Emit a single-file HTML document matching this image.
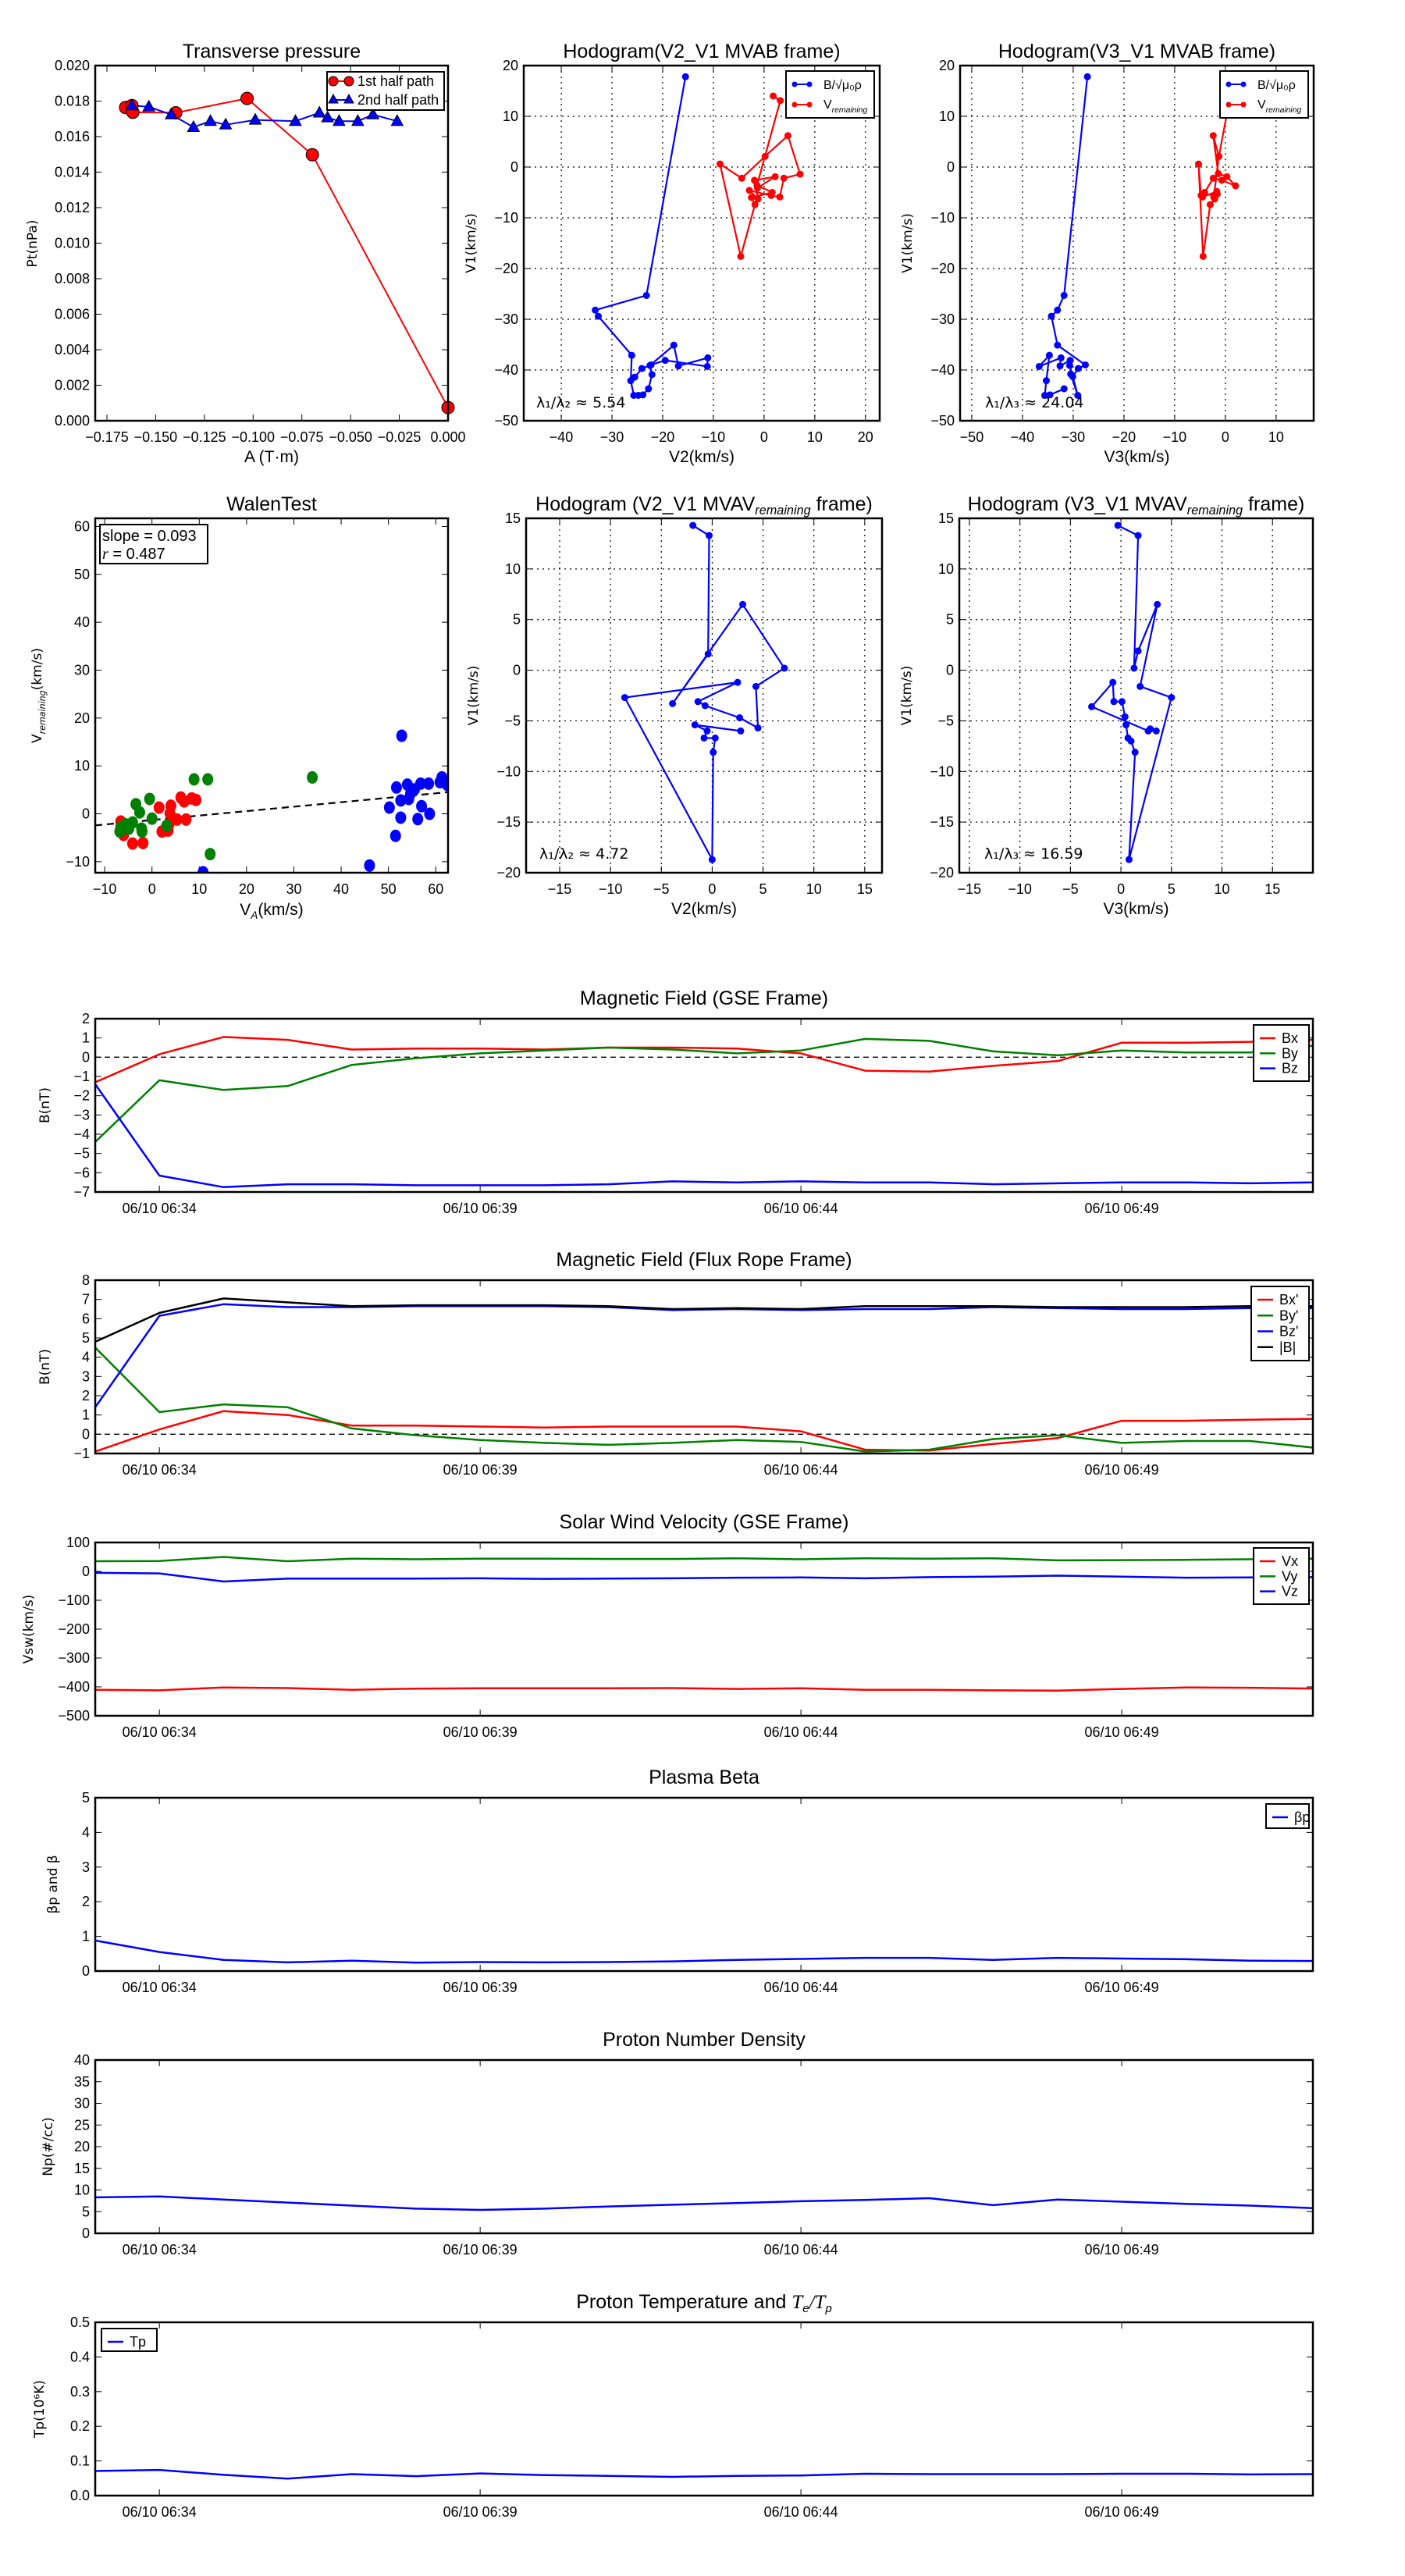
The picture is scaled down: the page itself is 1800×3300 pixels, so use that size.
<!DOCTYPE html>
<html><head><meta charset="utf-8"><title>Flux rope analysis</title>
<style>
html,body{margin:0;padding:0;background:#fff;}
svg{display:block;font-family:"Liberation Sans Narrow","Liberation Sans",sans-serif;}
.tl{font-size:18px;fill:#000;}
.ttl{font-size:25px;fill:#000;}
.yl{font-family:"DejaVu Sans","Liberation Sans",sans-serif;font-size:17px;fill:#000;}
.xl{font-size:21px;fill:#000;}
</style></head>
<body>
<svg id="fig" width="1800" height="3300" viewBox="0 0 1800 3300" xmlns="http://www.w3.org/2000/svg">
<rect x="0" y="0" width="1800" height="3300" fill="#fff"/>
</svg>
<script>
// ---------- data ----------
const ptA1=[-0.1654,-0.1622,-0.1617,-0.1397,-0.1031,-0.0696,0.0];
const ptP1=[0.01764,0.01775,0.01737,0.01734,0.01815,0.01498,0.00074];
const ptA2=[-0.1622,-0.1535,-0.142,-0.1306,-0.1219,-0.1141,-0.0989,-0.0783,-0.066,-0.0618,-0.0559,-0.0463,-0.0385,-0.0261];
const ptP2=[0.01775,0.01768,0.01724,0.01653,0.01687,0.01667,0.01694,0.01687,0.01734,0.01707,0.01687,0.01687,0.01724,0.01687];

const h1Bx=[-15.5,-23.2,-33.3,-32.7,-26.1,-26.3,-25.7,-24.8,-23.9,-22.8,-22.1,-22.5,-17.8,-16.9,-11.1,-11.2,-19.5,-22.3,-24.1,-25.5];
const h1By=[17.8,-25.3,-28.2,-29.4,-37.1,-42.1,-45.0,-45.0,-44.9,-43.7,-40.9,-39.1,-35.1,-39.2,-37.6,-39.3,-38.1,-39.0,-39.7,-41.4];
const h1Vx=[1.8,3.2,-1.4,1.6,-2.5,-1.8,-4.6,-8.7,-4.4,0.2,4.7,7.1,3.9,3.1,1.4,-2.9,-1.2,-1.9,2.2,-1.3];
const h1Vy=[14.0,13.1,-3.6,-5.0,-6.0,-7.4,-17.6,0.6,-2.2,2.1,6.2,-1.4,-2.2,-5.9,-5.6,-4.6,-6.3,-2.6,-1.9,-4.1];

const h2Bx=[-27.2,-31.8,-33.1,-34.3,-33.1,-27.6,-29.0,-30.1,-30.5,-29.1,-30.7,-30.6,-32.6,-32.4,-36.7,-34.7,-35.3,-35.6,-34.6,-31.8];
const h2By=[17.8,-25.3,-28.2,-29.4,-35.1,-39.0,-39.7,-41.3,-40.8,-45.0,-39.1,-38.1,-39.2,-37.6,-39.3,-37.1,-42.1,-45.0,-44.9,-43.7];
const h2Vx=[1.3,0.8,-1.3,-2.4,-1.4,0.3,2.0,-0.7,-2.4,-4.1,-4.5,-1.7,-2.1,-3.0,-4.4,-5.3,-4.8,-1.6,-2.3,-1.3];
const h2Vy=[14.0,13.1,2.1,6.2,-1.3,-1.9,-3.7,-2.6,-2.2,-5.0,-5.9,-4.8,-6.3,-7.4,-17.6,0.6,-5.6,-5.3,-5.9,2.1];

const walRx=[-6.6,-6.0,-4.1,-1.9,1.5,2.1,3.4,3.6,3.8,4.0,4.4,6.1,6.8,7.2,8.4,9.3,5.3];
const walRy=[-1.6,-4.4,-6.2,-6.1,1.3,-3.7,-3.5,-2.2,0.1,1.7,-1.0,3.4,2.6,-1.2,3.2,2.9,-1.2];
const walGx=[-6.8,-6.6,-5.6,-4.9,-4.1,-3.4,-2.6,-2.2,-2.1,-0.5,0.0,3.1,8.9,11.8,12.3,33.9];
const walGy=[-3.7,-2.8,-2.2,-3.1,-1.8,2.0,0.3,-3.1,-3.7,3.1,-1.0,-2.5,7.2,7.2,-8.4,7.6];
const walBx=[10.8,46.0,51.5,50.2,51.7,52.6,52.8,52.6,54.0,54.7,54.3,55.5,56.2,57.0,56.8,58.5,58.7,60.9,61.3,62.5];
const walBy=[-12.2,-10.8,-4.6,1.3,5.5,2.8,16.3,-0.8,6.1,4.3,3.1,5.1,-1.1,1.6,6.3,6.3,0.0,6.6,7.6,6.0];
const walSlope=0.093, walIntercept=-1.3;

const h3x=[-1.9,-0.3,-0.4,-3.9,3.0,7.1,4.3,4.5,2.7,-0.7,-1.4,2.5,-8.6,0.0,0.1,0.3,-0.8,-0.5,-1.7,2.8];
const h3y=[14.3,13.3,1.6,-3.3,6.5,0.2,-1.6,-5.7,-4.7,-3.5,-3.1,-1.2,-2.7,-18.7,-8.1,-6.7,-6.7,-6.0,-5.4,-6.0];
const h4x=[-0.3,1.7,1.3,1.7,3.6,1.9,5.0,0.8,1.4,1.0,0.7,0.5,0.4,0.1,-0.7,-0.8,-2.9,2.7,3.5,2.9];
const h4y=[14.3,13.3,0.2,1.9,6.5,-1.6,-2.7,-18.7,-8.1,-7.0,-6.7,-5.4,-4.6,-3.1,-3.1,-1.2,-3.6,-6.0,-6.0,-5.8];

const tMin=[0,1,2,3,4,5,6,7,8,9,10,11,12,13,14,15,16,17,18,19];
const timeTicks=[1,6,11,16];
const timeLabels=['06/10 06:34','06/10 06:39','06/10 06:44','06/10 06:49'];
const gseBx=[-1.3,0.15,1.05,0.9,0.4,0.45,0.45,0.4,0.5,0.5,0.45,0.2,-0.7,-0.75,-0.45,-0.2,0.75,0.75,0.8,0.9];
const gseBy=[-4.4,-1.2,-1.7,-1.5,-0.4,-0.05,0.2,0.35,0.5,0.4,0.2,0.35,0.95,0.85,0.3,0.1,0.35,0.25,0.25,0.6];
const gseBz=[-1.4,-6.15,-6.75,-6.6,-6.6,-6.65,-6.65,-6.65,-6.6,-6.45,-6.5,-6.45,-6.5,-6.5,-6.6,-6.55,-6.5,-6.5,-6.55,-6.5];
const frBx=[-0.9,0.25,1.2,1.0,0.45,0.45,0.4,0.35,0.4,0.4,0.4,0.15,-0.8,-0.85,-0.5,-0.2,0.7,0.7,0.75,0.8];
const frBy=[4.5,1.15,1.55,1.4,0.3,-0.05,-0.3,-0.45,-0.55,-0.45,-0.3,-0.4,-0.9,-0.8,-0.25,-0.05,-0.45,-0.35,-0.35,-0.7];
const frBz=[1.4,6.15,6.75,6.6,6.6,6.65,6.65,6.65,6.6,6.45,6.5,6.45,6.5,6.5,6.6,6.55,6.5,6.5,6.55,6.55];
const frBt=[4.8,6.3,7.05,6.85,6.65,6.7,6.7,6.7,6.65,6.5,6.55,6.5,6.65,6.65,6.65,6.6,6.6,6.6,6.65,6.65];
const vswX=[-410,-412,-402,-404,-410,-406,-405,-405,-405,-404,-407,-405,-410,-410,-412,-413,-407,-402,-403,-406];
const vswY=[35,36,50,35,44,42,44,44,43,43,45,42,45,44,45,38,39,40,42,44];
const vswZ=[-5,-7,-35,-25,-25,-25,-24,-26,-25,-24,-22,-21,-24,-20,-18,-15,-18,-22,-21,-20];
const betaP=[0.88,0.55,0.32,0.25,0.3,0.24,0.26,0.25,0.26,0.28,0.32,0.35,0.38,0.38,0.32,0.38,0.36,0.34,0.3,0.29];
const densNp=[8.3,8.5,7.8,7.1,6.4,5.7,5.4,5.7,6.2,6.6,7.0,7.4,7.7,8.1,6.5,7.8,7.3,6.8,6.4,5.8];
const tempTp=[0.071,0.074,0.06,0.049,0.062,0.056,0.064,0.059,0.057,0.054,0.057,0.058,0.063,0.062,0.062,0.062,0.063,0.063,0.061,0.062];

// ---------- helpers ----------
const NS='http://www.w3.org/2000/svg';
const svg=document.getElementById('fig');
function mk(tag,attrs,parent){const e=document.createElementNS(NS,tag);for(const k in attrs)e.setAttribute(k,attrs[k]);(parent||svg).appendChild(e);return e;}
function mkAxes(box,xd,yd){
  const sx=v=>box.l+(v-xd[0])/(xd[1]-xd[0])*(box.r-box.l);
  const sy=v=>box.b-(v-yd[0])/(yd[1]-yd[0])*(box.b-box.t);
  return {sx,sy,box};
}
function fmtNeg(s){return String(s).replace('-','\u2212');}
function drawFrame(g,ax,xt,xl,yt,yl,grid){
  const b=ax.box;
  for(let i=0;i<xt.length;i++){
    const x=ax.sx(xt[i]);
    if(grid){mk('line',{x1:x,y1:b.t,x2:x,y2:b.b,stroke:'#000','stroke-width':1.2,'stroke-dasharray':'2,5'},g);}
    mk('line',{x1:x,y1:b.b,x2:x,y2:b.b-8,stroke:'#000','stroke-width':1},g);
    mk('line',{x1:x,y1:b.t,x2:x,y2:b.t+8,stroke:'#000','stroke-width':1},g);
    const t=mk('text',{x:x,y:b.b+27,'text-anchor':'middle',class:'tl'},g);
    t.textContent=xl[i];
    
    
  }
  for(let i=0;i<yt.length;i++){
    const y=ax.sy(yt[i]);
    if(grid){mk('line',{x1:b.l,y1:y,x2:b.r,y2:y,stroke:'#000','stroke-width':1.2,'stroke-dasharray':'2,5'},g);}
    mk('line',{x1:b.l,y1:y,x2:b.l+8,y2:y,stroke:'#000','stroke-width':1},g);
    mk('line',{x1:b.r,y1:y,x2:b.r-8,y2:y,stroke:'#000','stroke-width':1},g);
    const t=mk('text',{x:b.l-7,y:y+6,'text-anchor':'end',class:'tl'},g);
    t.textContent=yl[i];
    
    
  }
}
function border(g,ax){
  const b=ax.box;
  const r=mk('rect',{x:b.l,y:b.t,width:b.r-b.l,height:b.b-b.t,fill:'none',stroke:'#000','stroke-width':2.5},g);
  
  
}
function clip(id,ax){
  const b=ax.box;
  const c=mk('clipPath',{id:id});
  mk('rect',{x:b.l,y:b.t,width:b.r-b.l,height:b.b-b.t},c);
  return 'url(#'+id+')';
}
function poly(g,ax,xs,ys,color,w,cp){
  const pts=xs.map((x,i)=>ax.sx(x).toFixed(1)+','+ax.sy(ys[i]).toFixed(1)).join(' ');
  return mk('polyline',{points:pts,fill:'none',stroke:color,'stroke-width':w,'stroke-linejoin':'round','clip-path':cp},g);
}
function title(g,x,y,txt){
  const t=mk('text',{x:x,y:y,'text-anchor':'middle',class:'ttl'},g);
  t.textContent=txt;
  return t;
}
function ylab(g,x,y,txt){
  const t=mk('text',{x:x,y:y,'text-anchor':'middle',class:'yl',transform:'rotate(-90 '+x+' '+y+')'},g);
  t.textContent=txt;
  return t;
}
function range(a,b,s){const r=[];for(let v=a;v<=b+1e-9;v+=s)r.push(+v.toFixed(6));return r;}

// ---------- Transverse pressure ----------
(function(){
  const g=mk('g',{});
  
  
  const ax=mkAxes({l:122,t:84,r:574,b:539},[-0.181,0],[0,0.020]);
  const xt=range(-0.175,0,0.025);
  const yt=range(0,0.020,0.002);
  drawFrame(g,ax,xt,xt.map(v=>fmtNeg(v.toFixed(3))),yt,yt.map(v=>v.toFixed(3)),false);
  const cp=clip('cp1',ax);
  const l1=poly(g,ax,ptA1,ptP1,'#f00',2,cp);
  
  
  const l2=poly(g,ax,ptA2,ptP2,'#00f',2,cp);
  
  
  ptA1.forEach((a,i)=>{
    const c=mk('circle',{cx:ax.sx(a),cy:ax.sy(ptP1[i]),r:8,fill:'#f00',stroke:'#000','stroke-width':1},g);
    
    
  });
  ptA2.forEach((a,i)=>{
    const x=ax.sx(a),y=ax.sy(ptP2[i]);
    const p=mk('polygon',{points:`${x},${y-8} ${x-7.5},${y+5.5} ${x+7.5},${y+5.5}`,fill:'#00f',stroke:'#000','stroke-width':1},g);
    
    
  });
  border(g,ax);
  const t=title(g,348,74,'Transverse pressure');
  
  
  const yl=ylab(g,47,312,'Pt(nPa)');
  
  
  const xl=mk('text',{x:348,y:592,'text-anchor':'middle',class:'xl'},g);
  xl.textContent='A (T\u00b7m)';
  
  
  const lg=mk('g',{},g);
  
  
  mk('rect',{x:419,y:92,width:150,height:49,fill:'#fff',stroke:'#000','stroke-width':2},lg);
  mk('line',{x1:426,y1:104,x2:448,y2:104,stroke:'#f00','stroke-width':2},lg);
  mk('circle',{cx:427,cy:104,r:6,fill:'#f00',stroke:'#000'},lg);
  mk('circle',{cx:447,cy:104,r:6,fill:'#f00',stroke:'#000'},lg);
  const e1=mk('text',{x:458,y:110,class:'tl','font-size':'17px'},lg);e1.textContent='1st half path';
  
  
  mk('line',{x1:426,y1:128,x2:448,y2:128,stroke:'#00f','stroke-width':2},lg);
  mk('polygon',{points:'427,121 421,132 433,132',fill:'#00f',stroke:'#000'},lg);
  mk('polygon',{points:'447,121 441,132 453,132',fill:'#00f',stroke:'#000'},lg);
  const e2=mk('text',{x:458,y:134,class:'tl','font-size':'17px'},lg);e2.textContent='2nd half path';
  
  
})();

// ---------- hodogram builder ----------
function sub(t,base,s){const a=mk('tspan',{},t);a.textContent=base;const b=mk('tspan',{'font-size':'0.65em','font-style':'italic',dy:5},t);b.textContent=s;const c=mk('tspan',{dy:-5},t);c.textContent='';return c;}
function hodoLegend(g,x,y){
  const lg=mk('g',{},g);
  
  
  mk('rect',{x:x,y:y,width:113,height:60,fill:'#fff',stroke:'#000','stroke-width':2},lg);
  mk('line',{x1:x+11,y1:y+17,x2:x+30,y2:y+17,stroke:'#00f','stroke-width':2},lg);
  mk('circle',{cx:x+11,cy:y+17,r:3.5,fill:'#00f'},lg);mk('circle',{cx:x+30,cy:y+17,r:3.5,fill:'#00f'},lg);
  const t1=mk('text',{x:x+48,y:y+23,'font-size':'16px'},lg);
  t1.textContent='B/\u221a\u03bc\u2080\u03c1';
  
  
  mk('line',{x1:x+11,y1:y+43,x2:x+30,y2:y+43,stroke:'#f00','stroke-width':2},lg);
  mk('circle',{cx:x+11,cy:y+43,r:3.5,fill:'#f00'},lg);mk('circle',{cx:x+30,cy:y+43,r:3.5,fill:'#f00'},lg);
  const t2=mk('text',{x:x+48,y:y+48,'font-size':'16px'},lg);
  sub(t2,'V','remaining');
  
  
}
function hodo(name,box,xd,yd,xt,yt,series,ttl,xlab,ratioTxt,ratioPos,cid,legend,subTitle){
  const g=mk('g',{});
  
  
  const ax=mkAxes(box,xd,yd);
  drawFrame(g,ax,xt,xt.map(fmtNeg),yt,yt.map(fmtNeg),true);
  const cp=clip(cid,ax);
  series.forEach(s=>{
    const l=poly(g,ax,s.x,s.y,s.c,2.2,cp);
    
    
    s.x.forEach((v,i)=>{
      const c=mk('circle',{cx:ax.sx(v),cy:ax.sy(s.y[i]),r:4.5,fill:s.c,'clip-path':cp},g);
      
      
    });
  });
  border(g,ax);
  const cx=(box.l+box.r)/2;
  const t=mk('text',{x:cx,y:box.t-10,'text-anchor':'middle',class:'ttl'},g);
  if(subTitle){const a=sub(t,ttl[0],'remaining');a.textContent=ttl[1];}else{t.textContent=ttl;}
  
  
  const yl=ylab(g,box.l-62,(box.t+box.b)/2,'V1(km/s)');
  
  
  const xl=mk('text',{x:cx,y:box.b+53,'text-anchor':'middle',class:'xl'},g);
  xl.textContent=xlab;
  
  
  const r=mk('text',{x:ratioPos[0],y:ratioPos[1],'font-size':'19px','font-family':'DejaVu Sans, sans-serif'},g);
  r.textContent=ratioTxt;
  
  
  if(legend)hodoLegend(g,legend[0],legend[1]);
}
hodo('hodogram-v2-v1-mvab',{l:671,t:84,r:1127,b:539},[-47.4,22.8],[-50,20],range(-40,20,10),range(-50,20,10),
  [{x:h1Bx,y:h1By,c:'#00f',n:'b-alfven'},{x:h1Vx,y:h1Vy,c:'#f00',n:'v-remaining'}],
  'Hodogram(V2_V1 MVAB frame)','V2(km/s)','\u03bb\u2081/\u03bb\u2082 \u2248 5.54',[687,522],'cp2',[1007,91],false);
hodo('hodogram-v3-v1-mvab',{l:1230,t:84,r:1683,b:539},[-52.3,17.4],[-50,20],range(-50,10,10),range(-50,20,10),
  [{x:h2Bx,y:h2By,c:'#00f',n:'b-alfven'},{x:h2Vx,y:h2Vy,c:'#f00',n:'v-remaining'}],
  'Hodogram(V3_V1 MVAB frame)','V3(km/s)','\u03bb\u2081/\u03bb\u2083 \u2248 24.04',[1262,522],'cp3',[1563,91],false);
hodo('hodogram-v2-v1-mvav',{l:674,t:664,r:1130,b:1118},[-18.3,16.7],[-20,15],range(-15,15,5),range(-20,15,5),
  [{x:h3x,y:h3y,c:'#00f',n:'velocity'}],
  ['Hodogram (V2_V1 MVAV',' frame)'],'V2(km/s)','\u03bb\u2081/\u03bb\u2082 \u2248 4.72',[691,1100],'cp5',null,true);
hodo('hodogram-v3-v1-mvav',{l:1229,t:664,r:1682,b:1118},[-16.0,19.0],[-20,15],range(-15,15,5),range(-20,15,5),
  [{x:h4x,y:h4y,c:'#00f',n:'velocity'}],
  ['Hodogram (V3_V1 MVAV',' frame)'],'V3(km/s)','\u03bb\u2081/\u03bb\u2083 \u2248 16.59',[1261,1100],'cp6',null,true);

// ---------- Walen test ----------
(function(){
  const g=mk('g',{});
  
  
  const ax=mkAxes({l:122,t:664,r:574,b:1118},[-12,62.6],[-12.3,61.7]);
  const xt=range(-10,60,10),yt=range(-10,60,10);
  drawFrame(g,ax,xt,xt.map(fmtNeg),yt,yt.map(fmtNeg),false);
  const cp=clip('cp4',ax);
  const fl=mk('line',{x1:ax.sx(-12),y1:ax.sy(walSlope*-12+walIntercept),x2:ax.sx(62.6),y2:ax.sy(walSlope*62.6+walIntercept),stroke:'#000','stroke-width':2.2,'stroke-dasharray':'9,6','clip-path':cp},g);
  
  
  [[walRx,walRy,'#f00','red'],[walGx,walGy,'#008000','green'],[walBx,walBy,'#00f','blue']].forEach(s=>{
    s[0].forEach((v,i)=>{
      const c=mk('ellipse',{cx:ax.sx(v),cy:ax.sy(s[1][i]),rx:7,ry:8,fill:s[2],'clip-path':cp},g);
      
      
    });
  });
  border(g,ax);
  const bx=mk('g',{},g);
  
  
  mk('rect',{x:128,y:672,width:138,height:50,fill:'#fff',stroke:'#000','stroke-width':2},bx);
  const s1=mk('text',{x:131,y:693,'font-size':'20px'},bx);s1.textContent='slope = 0.093';
  const s2=mk('text',{x:131,y:716,'font-size':'20px'},bx);
  const ri=mk('tspan',{'font-style':'italic','font-family':'Liberation Serif, serif'},s2);ri.textContent='r';
  const rr=mk('tspan',{},s2);rr.textContent=' = 0.487';
  const t=title(g,348,654,'WalenTest');
  
  
  const yl=mk('text',{x:53,y:891,'text-anchor':'middle',class:'yl',transform:'rotate(-90 53 891)'},g);
  sub(yl,'V','remaining').textContent='(km/s)';
  
  
  const xl=mk('text',{x:348,y:1172,'text-anchor':'middle',class:'xl'},g);
  sub(xl,'V','A').textContent='(km/s)';
  
  
})();

// ---------- time series ----------
function ts(name,top,yd,yt,ylabels,series,ttl,ylabTxt,ylabX,legend,zero,cid){
  const g=mk('g',{});
  
  
  const ax=mkAxes({l:122,t:top,r:1682,b:top+222},[0,18.98],yd);
  drawFrame(g,ax,timeTicks,timeLabels,yt,ylabels,false);
  const cp=clip(cid,ax);
  if(zero){
    const z=mk('line',{x1:122,y1:ax.sy(0),x2:1682,y2:ax.sy(0),stroke:'#000','stroke-width':1.3,'stroke-dasharray':'7,5'},g);
    
    
  }
  series.forEach(s=>{
    const l=poly(g,ax,tMin,s.v,s.c,2.5,cp);
    
    
  });
  border(g,ax);
  const t=mk('text',{x:902,y:top-18,'text-anchor':'middle',class:'ttl'},g);
  if(Array.isArray(ttl)){t.textContent=ttl[0];const a=mk('tspan',{'font-style':'italic','font-family':'Liberation Serif, serif'},t);a.textContent='T';const b=mk('tspan',{'font-size':'0.6em','font-style':'italic',dy:5},t);b.textContent='e';const c=mk('tspan',{dy:-5,'font-style':'italic','font-family':'Liberation Serif, serif'},t);c.textContent='/T';const d=mk('tspan',{'font-size':'0.6em','font-style':'italic',dy:5},t);d.textContent='p';}
  else t.textContent=ttl;
  
  
  const yl=ylab(g,ylabX,top+111,ylabTxt);
  
  
  if(legend){
    const lg=mk('g',{},g);
    
    
    const h=legend.h;
    mk('rect',{x:legend.x,y:legend.y,width:legend.w,height:h,fill:'#fff',stroke:'#000','stroke-width':2},lg);
    series.forEach((s,i)=>{
      const yy=legend.y+17+i*(h-14)/series.length;
      mk('line',{x1:legend.x+8,y1:yy,x2:legend.x+28,y2:yy,stroke:s.c,'stroke-width':2.5},lg);
      const e=mk('text',{x:legend.x+36,y:yy+6,class:'tl','font-size':'17px'},lg);
      e.textContent=s.label;
      
      
    });
  }
}
ts('magnetic-field-gse-chart',1305,[-7,2],range(-7,2,1),range(-7,2,1).map(fmtNeg),
  [{v:gseBx,c:'#f00',n:'bx',label:'Bx'},{v:gseBy,c:'#008000',n:'by',label:'By'},{v:gseBz,c:'#00f',n:'bz',label:'Bz'}],
  'Magnetic Field (GSE Frame)','B(nT)',63,{x:1606,y:1313,w:71,h:72},true,'ct1');
ts('magnetic-field-flux-rope-chart',1640,[-1,8],range(-1,8,1),range(-1,8,1).map(fmtNeg),
  [{v:frBx,c:'#f00',n:'bx-prime',label:"Bx'"},{v:frBy,c:'#008000',n:'by-prime',label:"By'"},{v:frBz,c:'#00f',n:'bz-prime',label:"Bz'"},{v:frBt,c:'#000',n:'b-total',label:'|B|'}],
  'Magnetic Field (Flux Rope Frame)','B(nT)',63,{x:1603,y:1648,w:74,h:95},true,'ct2');
ts('solar-wind-velocity-chart',1976,[-500,100],range(-500,100,100),range(-500,100,100).map(fmtNeg),
  [{v:vswX,c:'#f00',n:'vx',label:'Vx'},{v:vswY,c:'#008000',n:'vy',label:'Vy'},{v:vswZ,c:'#00f',n:'vz',label:'Vz'}],
  'Solar Wind Velocity (GSE Frame)','Vsw(km/s)',42,{x:1606,y:1983,w:71,h:72},false,'ct3');
ts('plasma-beta-chart',2303,[0,5],range(0,5,1),range(0,5,1).map(String),
  [{v:betaP,c:'#00f',n:'beta-p',label:'\u03b2p'}],
  'Plasma Beta','\u03b2p and \u03b2',73,{x:1622,y:2311,w:55,h:31},false,'ct4');
ts('proton-density-chart',2639,[0,40],range(0,40,5),range(0,40,5).map(String),
  [{v:densNp,c:'#00f',n:'np',label:'Np'}],
  'Proton Number Density','Np(#/cc)',67,null,false,'ct5');
ts('proton-temperature-chart',2975,[0,0.5],range(0,0.5,0.1),range(0,0.5,0.1).map(v=>v.toFixed(1)),
  [{v:tempTp,c:'#00f',n:'tp',label:'Tp'}],
  ['Proton Temperature and '],'Tp(10\u2076K)',56,{x:130,y:2983,w:71,h:29},false,'ct6');
</script>
</body></html>
